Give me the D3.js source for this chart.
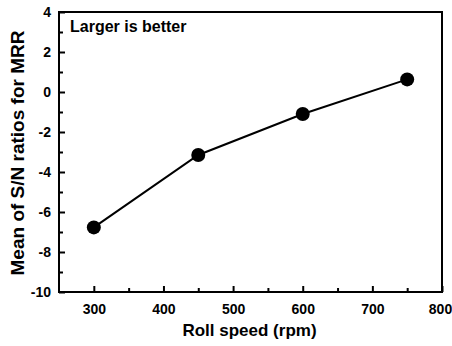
<!DOCTYPE html>
<meta charset="utf-8">
<style type="text/css">
body { margin: 0; background: #fff; }
text { font-family: "Liberation Sans", Arial, sans-serif; font-weight: bold; fill: #000; }
.line { fill: none; stroke: #000; stroke-width: 2; }
.dot { fill: #000; }
.frame { fill: none; stroke: #000; stroke-width: 2; }
</style>
<body>
</body>
<script src="https://d3js.org/d3.v7.min.js"></script>
<script>

var speeds = [300, 450, 600, 750];
var snMeans = [-6.77, -3.15, -1.1, 0.63];
var xTicks = [300, 400, 500, 600, 700, 800];
var yTicks = [-10, -8, -6, -4, -2, 0, 2, 4];

var margin = {left: 59, top: 12, right: 10, bottom: 54}
  , width = 452 - margin.left - margin.right
  , height = 346 - margin.top - margin.bottom;

var xScale = d3.scaleLinear().domain([250, 800]).range([0, width]);
var yScale = d3.scaleLinear().domain([-10, 4]).range([height, 0]);

var svg = d3.select("body").append("svg")
    .attr("width", 452)
    .attr("height", 346)
  .append("g")
    .attr("transform", "translate(" + margin.left + "," + margin.top + ")");

// minor ticks
svg.append("g")
    .attr("transform", "translate(0," + height + ")")
    .call(d3.axisBottom(xScale).tickValues(d3.range(350, 800, 100)).tickSize(-4).tickFormat(""))
    .call(function(g) { g.select(".domain").remove(); g.selectAll("line").attr("stroke-width", 2); });
svg.append("g")
    .call(d3.axisLeft(yScale).tickValues(d3.range(-9, 4, 2)).tickSize(-4).tickFormat(""))
    .call(function(g) { g.select(".domain").remove(); g.selectAll("line").attr("stroke-width", 2); });

// major ticks
svg.append("g")
    .attr("transform", "translate(0," + height + ")")
    .call(d3.axisBottom(xScale).tickValues(xTicks).tickSize(-6).tickPadding(12))
    .call(function(g) {
      g.select(".domain").remove();
      g.selectAll("line").attr("stroke-width", 2);
      g.selectAll("text").attr("font-size", 14).attr("font-family", null);
      // keep the last label inside the window
      g.selectAll("text").filter(function(d) { return d === 800; }).attr("dx", -2);
    });
svg.append("g")
    .call(d3.axisLeft(yScale).tickValues(yTicks).tickSize(-6).tickPadding(8)
      .tickFormat(function(d) { return String(d); }))
    .call(function(g) {
      g.select(".domain").remove();
      g.selectAll("line").attr("stroke-width", 2);
      g.selectAll("text").attr("font-size", 14).attr("font-family", null);
    });

svg.append("rect")
    .attr("class", "frame")
    .attr("width", width)
    .attr("height", height);

var data = speeds.map(function(s, i) { return {x: s, y: snMeans[i]}; });

svg.append("path")
    .datum(data)
    .attr("class", "line")
    .attr("d", d3.line().x(function(d) { return xScale(d.x); }).y(function(d) { return yScale(d.y); }));

svg.selectAll(".dot")
    .data(data)
  .enter().append("circle")
    .attr("class", "dot")
    .attr("cx", function(d) { return xScale(d.x); })
    .attr("cy", function(d) { return yScale(d.y); })
    .attr("r", 7);

svg.append("text")
    .attr("x", 11)
    .attr("y", 20)
    .attr("font-size", 16)
    .text("Larger is better");

svg.append("text")
    .attr("x", width / 2 - 1)
    .attr("y", height + 44)
    .attr("text-anchor", "middle")
    .attr("font-size", 17)
    .text("Roll speed (rpm)");

svg.append("text")
    .attr("transform", "translate(" + (-35) + "," + (153 - margin.top) + ") rotate(-90)")
    .attr("text-anchor", "middle")
    .attr("font-size", 19)
    .text("Mean of S/N ratios for MRR");

</script>
